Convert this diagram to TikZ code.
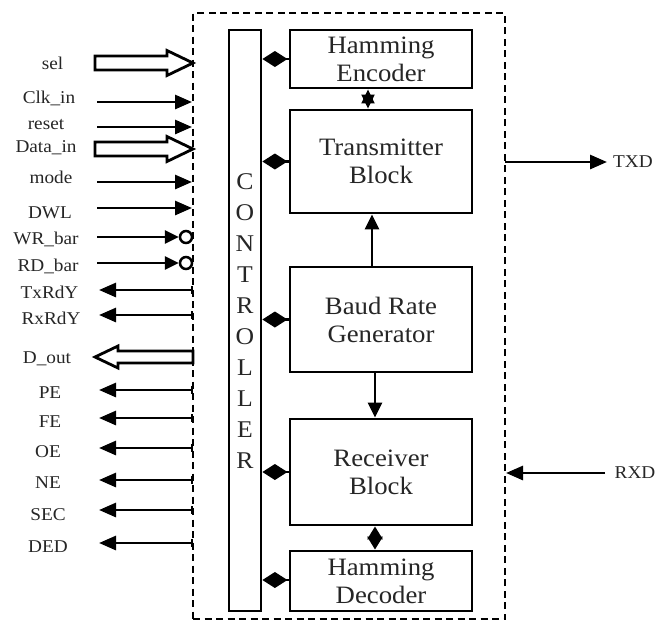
\documentclass[tikz,border=0pt]{standalone}
\usepackage{fontspec}
\setmainfont{Liberation Serif}[FakeStretch=1.07]
\usetikzlibrary{arrows.meta}
\definecolor{txt}{HTML}{262626}
\tikzset{
  blk/.style={draw, line width=2.8pt, minimum width=182pt, inner sep=0pt, align=center,
    font=\fontsize{25}{28}\selectfont, text=txt},
  ctl/.style={draw, line width=2.8pt, minimum width=32pt, minimum height=581pt, inner sep=0pt},
  chipbox/.style={draw, line width=2.5pt, dash pattern=on 7pt off 4.5pt, minimum width=312pt,
    minimum height=606pt, inner sep=0pt},
  lbl/.style={font=\fontsize{18}{20}\selectfont, text=txt, inner sep=0pt, anchor=base},
  sigin/.style={line width=2.8pt, -{Triangle[length=17pt,width=14pt]}},
  sigbar/.style={line width=2.8pt, -{Triangle[length=14pt,width=13pt]}},
  sigout/.style={line width=2.8pt, {Bar[width=8pt,line width=1.8pt]}-{Triangle[length=17pt,width=14pt]}},
  hollow/.style={line width=2.8pt, line join=miter, fill=white},
  dia/.style={line width=2.8pt, {Diamond[length=25pt,width=16pt]}-},
  int/.style={line width=2.8pt, -{Triangle[length=15pt,width=14pt]}},
  bow/.style={line width=2pt, {Triangle[length=14pt,width=13pt]}-{Triangle[length=14pt,width=13pt]}},
  dbl/.style={line width=2.8pt, {Triangle[length=13pt,width=15pt]}-{Triangle[length=13pt,width=15pt]}},
  bub/.style={draw, circle, line width=2.5pt, fill=white, minimum size=12pt, inner sep=0pt},
}
\begin{document}
\begin{tikzpicture}[x=1pt,y=-1pt]
\useasboundingbox (0,0) rectangle (672,625);

% chip outline
\node[chipbox] (chip) at (349,316) {};

% controller
\node[ctl] (ctrl) at (245,320.5) {};
\node[font=\fontsize{24}{31}\selectfont, text=txt, align=center, inner sep=0pt] (ctltxt) at (245,321)
  {C\\O\\N\\T\\R\\O\\L\\L\\E\\R};

% blocks
\node[blk, minimum height=58pt]  (he)  at (381,59)    {Hamming\\Encoder};
\node[blk, minimum height=103pt] (tb)  at (381,161.5) {Transmitter\\Block};
\node[blk, minimum height=105pt] (brg) at (381,319.5) {Baud Rate\\Generator};
\node[blk, minimum height=106pt] (rb)  at (381,472)   {Receiver\\Block};
\node[blk, minimum height=60pt]  (hd)  at (381,581)   {Hamming\\Decoder};

% controller links
\draw[dia] (ctrl.east |- he.west)  -- (he.west);
\draw[dia] (ctrl.east |- tb.west)  -- (tb.west);
\draw[dia] (ctrl.east |- brg.west) -- (brg.west);
\draw[dia] (ctrl.east |- rb.west)  -- (rb.west);
\draw[dia] ([yshift=1pt]ctrl.east |- hd.west) -- ([yshift=1pt]hd.west);

% internal links
\draw[bow] ([xshift=-13pt]he.south) -- ([xshift=-13pt]tb.north);
\draw[int] ([xshift=-9pt]brg.north) -- ([xshift=-9pt]tb.south);
\draw[int] ([xshift=-6pt]brg.south) -- ([xshift=-6pt]rb.north);
\draw[dbl] ([xshift=-6pt]rb.south) -- ([xshift=-6pt]hd.north);

% input labels
\node[lbl] (lsel)  at (52.5,69)  {sel};
\node[lbl] (lclk)  at (49,103)   {Clk\_in};
\node[lbl] (lrst)  at (46,129)   {reset};
\node[lbl] (ldin)  at (46,152)   {Data\_in};
\node[lbl] (lmode) at (51,183)   {mode};
\node[lbl] (ldwl)  at (50,218)   {DWL};
\node[lbl] (lwr)   at (46,244)   {WR\_bar};
\node[lbl] (lrd)   at (48,271)   {RD\_bar};

% hollow input buses
\draw[hollow, shift={(0,63)}] (95,-7) -- (167,-7) -- (167,-12.5) -- (193,0) -- (167,12.5) -- (167,7) -- (95,7) -- cycle;
\draw[hollow, shift={(0,149)}] (95,-7) -- (167,-7) -- (167,-12.5) -- (193,0) -- (167,12.5) -- (167,7) -- (95,7) -- cycle;

% single-bit inputs
\coordinate (clkS) at (97,102);  \coordinate (clkE) at (192,102);
\coordinate (rstS) at (97,127);  \coordinate (rstE) at (192,127);
\coordinate (modS) at (97,182);  \coordinate (modE) at (192,182);
\coordinate (dwlS) at (97,208);  \coordinate (dwlE) at (192,208);
\draw[sigin] (clkS) -- (clkE);
\draw[sigin] (rstS) -- (rstE);
\draw[sigin] (modS) -- (modE);
\draw[sigin] (dwlS) -- (dwlE);

\node[bub] (wrc) at (186,237) {};
\node[bub] (rdc) at (186,263) {};
\coordinate (wrS) at (97,237);
\coordinate (rdS) at (97,263);
\draw[sigbar] (wrS) -- (wrc.west);
\draw[sigbar] (rdS) -- (rdc.west);

% output labels
\node[lbl] (ltx)  at (49.5,298) {TxRdY};
\node[lbl] (lrx)  at (51,324)   {RxRdY};
\node[lbl] (ldo)  at (47,363)   {D\_out};
\node[lbl] (lpe)  at (50,398)   {PE};
\node[lbl] (lfe)  at (50,427)   {FE};
\node[lbl] (loe)  at (48,457)   {OE};
\node[lbl] (lne)  at (48,488)   {NE};
\node[lbl] (lsec) at (48,520)   {SEC};
\node[lbl] (lded) at (48,552)   {DED};

% hollow output bus
\draw[hollow, shift={(0,357)}] (193,-6) -- (118,-6) -- (118,-11) -- (95,0) -- (118,11) -- (118,6) -- (193,6) -- cycle;

% single-bit outputs
\foreach \n/\y in {tx/290, rx/315, pe/390, fe/418, oe/448, ne/480, sec/510, ded/543}{
  \coordinate (\n S) at (193,\y);
  \coordinate (\n E) at (99,\y);
  \draw[sigout] (\n S) -- (\n E);
}

% serial lines
\node[lbl] (ltxd) at (633,167) {TXD};
\node[lbl] (lrxd) at (635,478) {RXD};
\coordinate (txdS) at (505,162);
\coordinate (txdE) at (607,162);
\coordinate (rxdS) at (605,473);
\coordinate (rxdE) at (506,473);
\draw[sigin] (txdS) -- (txdE);
\draw[sigin] (rxdS) -- (rxdE);
\end{tikzpicture}
\end{document}
